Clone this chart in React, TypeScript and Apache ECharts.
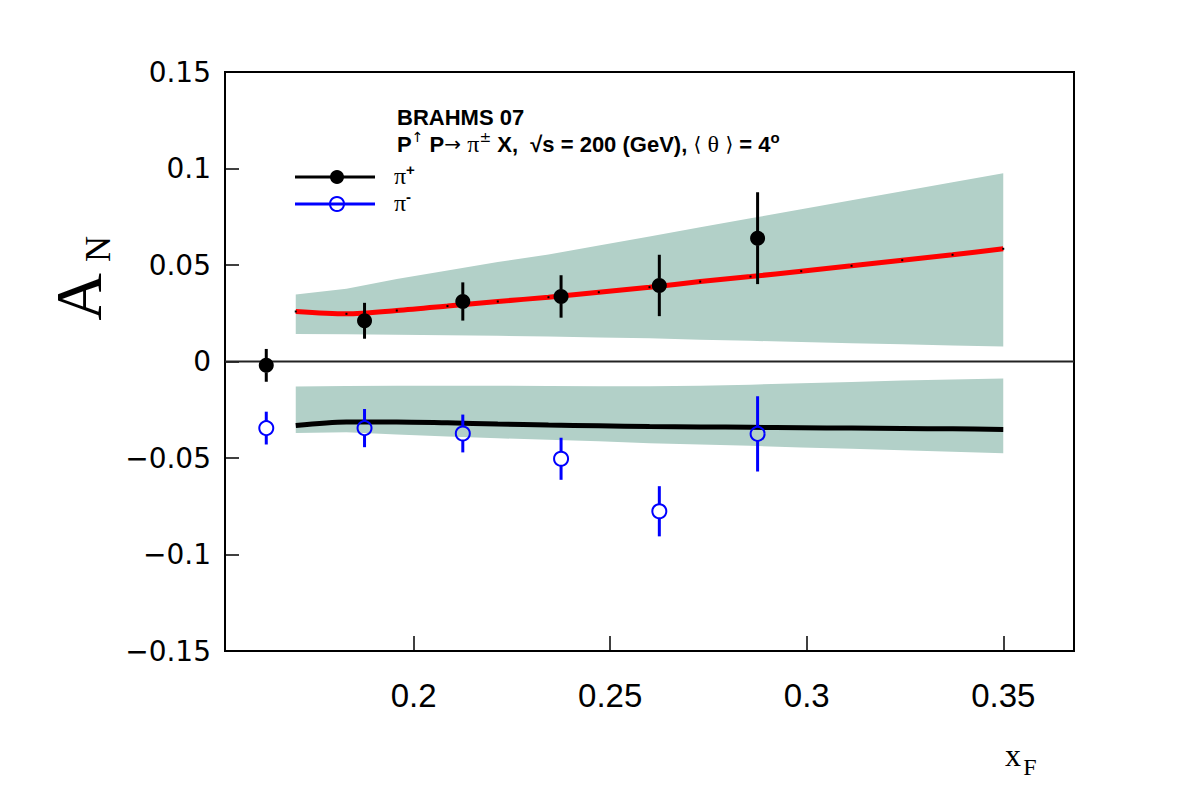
import React, { useEffect, useRef } from "react";
import * as echarts from "echarts";

// ---- data ----
const xData = [0.1625, 0.1875, 0.2125, 0.2375, 0.2625, 0.2875];
const piPlusY = [-0.002, 0.0211, 0.0311, 0.0337, 0.0394, 0.0639];
const piPlusErr = [0.0085, 0.0093, 0.0099, 0.011, 0.0159, 0.0238];
const piMinusY = [-0.0345, -0.0345, -0.0373, -0.0504, -0.0776, -0.0375];
const piMinusErr = [0.0085, 0.0099, 0.0098, 0.0109, 0.013, 0.0195];

const curveX = [0.17, 0.1829, 0.1957, 0.2086, 0.2214, 0.2343, 0.2471, 0.26, 0.2729, 0.2857, 0.2986, 0.3114, 0.3243, 0.3371, 0.35];
const redCurve = [0.0259, 0.0247, 0.0264, 0.0287, 0.0311, 0.0333, 0.0359, 0.0385, 0.0414, 0.044, 0.0468, 0.0496, 0.0525, 0.0553, 0.0584];
const blackCurve = [-0.0332, -0.0313, -0.0313, -0.0318, -0.0324, -0.0329, -0.0333, -0.0337, -0.0339, -0.0341, -0.0343, -0.0345, -0.0347, -0.0349, -0.0352];
const plusHi = [0.0347, 0.0377, 0.0428, 0.0472, 0.0515, 0.0554, 0.0601, 0.0648, 0.0695, 0.0742, 0.0789, 0.0835, 0.0882, 0.0929, 0.0976];
const plusLo = [0.0143, 0.0141, 0.0139, 0.0136, 0.0133, 0.013, 0.0125, 0.012, 0.0113, 0.0107, 0.0101, 0.0095, 0.0089, 0.0083, 0.0078];
const minusHi = [-0.013, -0.0127, -0.0125, -0.0125, -0.0126, -0.0127, -0.0128, -0.0128, -0.0125, -0.012, -0.0113, -0.0106, -0.0099, -0.0093, -0.0088];
const minusLo = [-0.0371, -0.0366, -0.0378, -0.0389, -0.0398, -0.0405, -0.0413, -0.0423, -0.043, -0.0437, -0.0445, -0.0452, -0.046, -0.0467, -0.0475];

const xTicks = [0.2, 0.25, 0.3, 0.35];
const yTicks = [-0.15, -0.1, -0.05, 0, 0.05, 0.1, 0.15];
const xRange = [0.152, 0.368];
const yRange = [-0.15, 0.15];

const BAND = "#b2d0c8";
const SANS = "'Liberation Sans', Arial, Helvetica, sans-serif";
const SERIF = "'Liberation Serif', 'Times New Roman', serif";
const SYM = "'DejaVu Sans', sans-serif";

function bandSeries(lo: number[], hi: number[]) {
  return {
    type: "custom",
    silent: true,
    z: 1,
    data: curveX.map((x, i) => [x, lo[i], hi[i]]),
    encode: { x: 0, y: [1, 2] },
    renderItem: (params: any, api: any) => {
      if (params.dataIndex !== 0) return { type: "group", children: [] };
      const top = curveX.map((x, i) => api.coord([x, hi[i]]));
      const bot = curveX.map((x, i) => api.coord([x, lo[i]])).reverse();
      return {
        type: "polygon",
        shape: { points: top.concat(bot) },
        style: { fill: BAND, stroke: null },
      };
    },
  };
}

function errSeries(ys: number[], errs: number[], color: string) {
  return {
    type: "custom",
    silent: true,
    z: 4,
    data: xData.map((x, i) => [x, ys[i], ys[i] - errs[i], ys[i] + errs[i]]),
    encode: { x: 0, y: [1, 2, 3] },
    renderItem: (params: any, api: any) => {
      const x = api.value(0);
      const p = api.coord([x, api.value(1)]);
      const lo = api.coord([x, api.value(2)]);
      const hi = api.coord([x, api.value(3)]);
      const r = 7;
      return {
        type: "group",
        children: [
          { type: "line", shape: { x1: p[0], y1: hi[1], x2: p[0], y2: p[1] - r }, style: { stroke: color, lineWidth: 3 } },
          { type: "line", shape: { x1: p[0], y1: p[1] + r, x2: p[0], y2: lo[1] }, style: { stroke: color, lineWidth: 3 } },
        ],
      };
    },
  };
}

export default function App() {
  const ref = useRef<HTMLDivElement>(null);
  useEffect(() => {
    if (!ref.current) return;
    const chart = echarts.init(ref.current, undefined, { renderer: "svg" });
    const richCommon = {
      b: { fontFamily: SANS, fontWeight: "bold", fontSize: 22, color: "#000", lineHeight: 28 },
      s: { fontFamily: SYM, fontSize: 20, color: "#000", lineHeight: 28 },
      g: { fontFamily: SERIF, fontSize: 24, color: "#000", lineHeight: 28 },
      sup: { fontFamily: SYM, fontSize: 14, color: "#000", lineHeight: 28, verticalAlign: "top", padding: [0, 0, 8, 0] },
      supb: { fontFamily: SANS, fontWeight: "bold", fontSize: 15, color: "#000", lineHeight: 28, verticalAlign: "top", padding: [0, 0, 8, 0] },
    };
    const option: any = {
      animation: false,
      backgroundColor: "#fff",
      grid: { left: 225, right: 108, top: 72, bottom: 154, show: true, borderColor: "#000", borderWidth: 2, backgroundColor: "transparent" },
      xAxis: {
        type: "value",
        min: xRange[0],
        max: xRange[1],
        axisLine: { show: true, onZero: false, lineStyle: { color: "#000", width: 2 } },
        axisTick: { show: true, inside: true, length: 15, customValues: xTicks, lineStyle: { color: "#000", width: 1.5 } },
        axisLabel: {
          customValues: xTicks,
          formatter: (v: number) => String(v),
          fontFamily: "'Liberation Sans Narrow', " + SANS,
          fontSize: 33,
          color: "#000",
          margin: 28,
        },
        splitLine: { show: false },
      },
      yAxis: {
        type: "value",
        min: yRange[0],
        max: yRange[1],
        axisLine: { show: true, onZero: false, lineStyle: { color: "#000", width: 2 } },
        axisTick: { show: true, inside: true, length: 14, customValues: yTicks, lineStyle: { color: "#000", width: 1.5 } },
        axisLabel: {
          customValues: yTicks,
          formatter: (v: number) => (v < 0 ? "\u2212" + String(-v) : String(v)),
          fontFamily: "'DejaVu Sans', sans-serif",
          fontSize: 28,
          color: "#000",
          margin: 14,
        },
        splitLine: { show: false },
      },
      series: [
        bandSeries(plusLo, plusHi),
        bandSeries(minusLo, minusHi),
        {
          type: "line",
          silent: true,
          z: 2,
          data: [[xRange[0], 0], [xRange[1], 0]],
          showSymbol: false,
          lineStyle: { color: "#222", width: 2 },
        },
        {
          type: "line",
          silent: true,
          z: 3,
          smooth: 0.3,
          data: curveX.map((x, i) => [x, redCurve[i]]),
          symbol: "rect",
          symbolSize: 2,
          showSymbol: true,
          itemStyle: { color: "#000" },
          lineStyle: { color: "#ff0000", width: 5 },
        },
        {
          type: "line",
          silent: true,
          z: 3,
          smooth: 0.3,
          data: curveX.map((x, i) => [x, blackCurve[i]]),
          showSymbol: false,
          lineStyle: { color: "#000", width: 5 },
        },
        errSeries(piPlusY, piPlusErr, "#000"),
        errSeries(piMinusY, piMinusErr, "#0000ff"),
        {
          type: "scatter",
          silent: true,
          z: 5,
          data: xData.map((x, i) => [x, piPlusY[i]]),
          symbol: "circle",
          symbolSize: 15,
          itemStyle: { color: "#000", opacity: 1 },
        },
        {
          type: "scatter",
          silent: true,
          z: 5,
          data: xData.map((x, i) => [x, piMinusY[i]]),
          symbol: "circle",
          symbolSize: 14,
          itemStyle: { color: "rgba(0,0,0,0)", borderColor: "#0000ff", borderWidth: 2, opacity: 1 },
        },
      ],
      graphic: [
        // title
        { type: "text", left: 397, top: 106, style: { text: "BRAHMS 07", fontFamily: SANS, fontWeight: "bold", fontSize: 22, fill: "#000" } },
        {
          type: "text",
          left: 397,
          top: 130,
          style: {
            text: "{b|P}{sup|\u2191}{b| P}{s|\u2192 }{g|\u03c0}{sup|\u00b1}{b| X,  \u221as = 200 (GeV), }{s|\u27e8 }{g|\u03b8}{s| \u27e9}{b| = 4}{supb|o}",
            rich: richCommon,
          },
        },
        // legend
        { type: "line", shape: { x1: 295, y1: 177, x2: 375, y2: 177 }, style: { stroke: "#000", lineWidth: 3 } },
        { type: "circle", shape: { cx: 337, cy: 177, r: 7 }, style: { fill: "#000" } },
        { type: "line", shape: { x1: 295, y1: 204, x2: 375, y2: 204 }, style: { stroke: "#0000ff", lineWidth: 3 } },
        { type: "circle", shape: { cx: 337, cy: 204, r: 7 }, style: { fill: "none", stroke: "#0000ff", lineWidth: 2 } },
        { type: "text", left: 394, top: 162, style: { text: "{g|\u03c0}{supb|+}", rich: richCommon } },
        { type: "text", left: 394, top: 189, style: { text: "{g|\u03c0}{supb|-}", rich: richCommon } },
        // y title
        { type: "text", x: 78, y: 297, rotation: Math.PI / 2, style: { text: "A", fontFamily: SERIF, fontSize: 66, fill: "#000", align: "center", verticalAlign: "middle" } },
        { type: "text", x: 98, y: 249, rotation: Math.PI / 2, style: { text: "N", fontFamily: SERIF, fontSize: 36, fill: "#000", align: "center", verticalAlign: "middle" } },
        // x title
        { type: "text", x: 1013, y: 755, style: { text: "x", fontFamily: SERIF, fontSize: 32, fill: "#000", align: "center", verticalAlign: "middle" } },
        { type: "text", x: 1030, y: 767, style: { text: "F", fontFamily: SERIF, fontSize: 24, fill: "#000", align: "center", verticalAlign: "middle" } },
      ],
    };
    chart.setOption(option);
    return () => chart.dispose();
  }, []);
  return <div ref={ref} style={{ position: "absolute", left: 0, top: 0, width: 1182, height: 805 }} />;
}
